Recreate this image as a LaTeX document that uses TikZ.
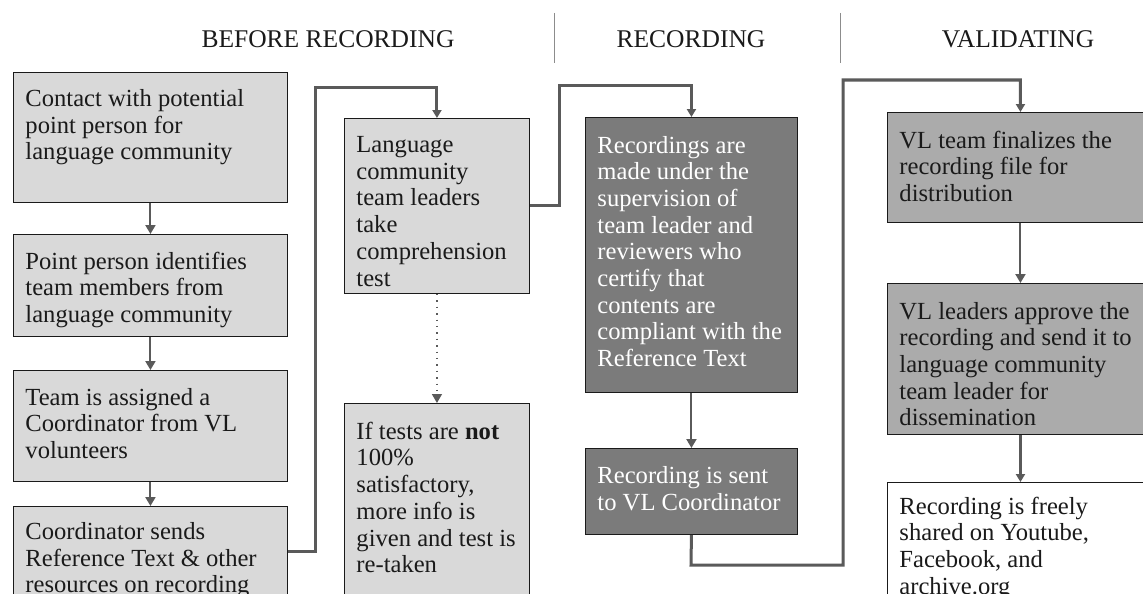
\documentclass[tikz,border=0pt]{standalone}
\usepackage{fontspec}
\setmainfont{Liberation Serif}
\usetikzlibrary{arrows.meta}
\definecolor{lightfill}{HTML}{D9D9D9}
\definecolor{midfill}{HTML}{ABABAB}
\definecolor{darkfill}{HTML}{7B7B7B}
\definecolor{conncol}{HTML}{5A5A5A}
\definecolor{sepcol}{HTML}{8C8C8C}
\definecolor{inkcol}{HTML}{1A1A1A}
\newcommand\boxtext[4]{\parbox[c][#1][t]{#2}{\vspace*{#3}\raggedright #4}}
\begin{document}
\begin{tikzpicture}[x=1pt,y=-1pt,
  boxbase/.style={draw=inkcol, line width=0.9pt, anchor=north west, inner xsep=12pt, inner ysep=0pt, font=\fontsize{24.6}{26.7}\selectfont},
  lightbox/.style={boxbase, fill=lightfill, text=inkcol},
  midbox/.style={boxbase, fill=midfill, text=inkcol},
  darkbox/.style={boxbase, fill=darkfill, text=white},
  whitebox/.style={boxbase, fill=white, text=inkcol},
  header/.style={anchor=base, inner sep=0pt, text=inkcol, font=\fontsize{25.5}{28}\selectfont},
  sepline/.style={draw=sepcol, line width=1pt},
  conn/.style={draw=conncol, line width=3pt, -{Triangle[length=8pt,width=9pt]}},
  thinarrow/.style={draw=conncol, line width=2pt, -{Triangle[length=9pt,width=10pt]}},
  dotarrow/.style={draw=conncol, line width=1.4pt, dash pattern=on 1.4pt off 5pt, -{Triangle[length=9pt,width=10pt]}},
]
\useasboundingbox (0,0) rectangle (1143,594);
\clip (0,0) rectangle (1143,594);
\fill[white] (0,0) rectangle (1143,594);

% headers
\node[header] (h1) at (328,48) {BEFORE RECORDING};
\node[header] (h2) at (691,48) {RECORDING};
\node[header] (h3) at (1018,48) {VALIDATING};
\coordinate (s1t) at (554,13); \coordinate (s1b) at (554,63);
\coordinate (s2t) at (840,13); \coordinate (s2b) at (840,63);
\draw[sepline] (s1t) -- (s1b);
\draw[sepline] (s2t) -- (s2b);

% column 1
\node[lightbox] (b1) at (13,72) {\boxtext{130pt}{250pt}{17pt}{Contact with potential\\point person for\\language community}};
\node[lightbox] (b2) at (13,234) {\boxtext{102pt}{250pt}{17.5pt}{Point person identifies\\team members from\\language community}};
\node[lightbox] (b3) at (13,370) {\boxtext{111pt}{250pt}{17.5pt}{Team is assigned a\\Coordinator from VL\\volunteers}};
\node[lightbox] (b4) at (13,506) {\boxtext{90pt}{250pt}{16pt}{Coordinator sends\\Reference Text \& other\\resources on recording}};

% column 2
\node[lightbox] (b5) at (344,118) {\boxtext{175pt}{161pt}{18pt}{Language\\community\\team leaders\\take\\comprehension\\test}};
\node[lightbox] (b6) at (344,403) {\boxtext{200pt}{161pt}{18.5pt}{If tests are \textbf{not}\\100\%\\satisfactory,\\more info is\\given and test is\\re-taken}};

% column 3
\node[darkbox] (b7) at (585,117) {\boxtext{275pt}{188pt}{18.5pt}{Recordings are\\made under the\\supervision of\\team leader and\\reviewers who\\certify that\\contents are\\compliant with the\\Reference Text}};
\node[darkbox] (b8) at (585,448) {\boxtext{86pt}{188pt}{18pt}{Recording is sent\\to VL Coordinator}};

% column 4
\node[midbox] (b9) at (887,112) {\boxtext{110pt}{242pt}{18.5pt}{VL team finalizes the\\recording file for\\distribution}};
\node[midbox] (b10) at (887,283) {\boxtext{151pt}{242pt}{18.5pt}{VL leaders approve the\\recording and send it to\\language community\\team leader for\\dissemination}};
\node[whitebox] (b11) at (887,482) {\boxtext{130pt}{242pt}{14.5pt}{Recording is freely\\shared on Youtube,\\Facebook, and\\archive.org}};

% arrows inside columns
\draw[thinarrow] (b1.south) -- (b2.north);
\draw[thinarrow] (b2.south) -- (b3.north);
\draw[thinarrow] (b3.south) -- (b4.north);
\draw[dotarrow] (b5.south) -- (b6.north);
\draw[thinarrow] (b7.south) -- (b8.north);
\draw[thinarrow] (b9.south) -- (b10.north);
\draw[conn] (b10.south) -- (b11.north);

% connectors between columns
\coordinate (c1) at (315,87);
\draw[conn] (b4.east) -| (c1) -| (b5.north);
\coordinate (c2) at (559,85);
\draw[conn] (b5.east) -| (c2) -| (b7.north);
\coordinate (c3) at (691,565);
\coordinate (c4) at (843,80);
\draw[conn] (b8.south) -- (c3) -| (c4) -| (b9.north);
\end{tikzpicture}
\end{document}
